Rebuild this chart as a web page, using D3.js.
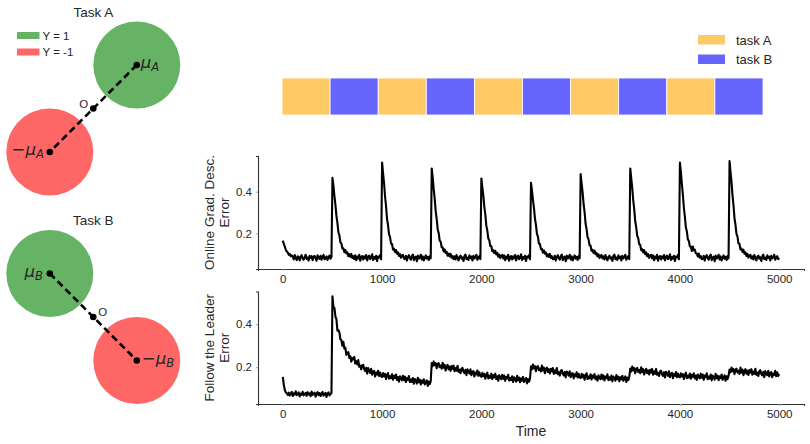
<!DOCTYPE html>
<html>
<head>
<meta charset="utf-8">
<script src="https://cdn.jsdelivr.net/npm/d3@7"></script>
<style>
  html, body { margin: 0; padding: 0; background: #fff; }
  svg { display: block; font-family: "Liberation Sans", Arial, sans-serif; }
</style>
</head>
<body>
<svg id="chart" width="810" height="444"></svg>
<script>
// ---- data ----
const taskNames = ["task A", "task B"];
const taskColors = ["#ffc966", "#6666ff"];
const taskOrder = ["task A", "task B", "task A", "task B", "task A", "task B", "task A", "task B", "task A", "task B"];
const classLabels = ["Y = 1", "Y = -1"];
const classColors = ["#66b366", "#ff6666"];
const xTicks = [0, 1000, 2000, 3000, 4000, 5000];
const yTicks = [0.2, 0.4];
const timeStep = 10; // one value every 10 steps, 0..5000

// online gradient descent error, one row of 50 per task block
const ogdError = [
  .165,.149,.136,.121,.113,.108,.097,.101,.09,.094,.088,.075,.096,.081,.071,.09,.085,.07,.089,.095,.079,.073,.086,.097,.077,.083,.069,.092,.082,.09,.071,.088,.091,.08,.068,.094,.085,.077,.092,.073,.087,.096,.075,.081,.089,.072,.084,.093,.078,.086,
  .467,.428,.379,.337,.284,.250,.205,.190,.156,.152,.127,.128,.109,.120,.103,.109,.090,.100,.087,.101,.082,.090,.076,.094,.071,.088,.079,.097,.068,.085,.091,.074,.089,.08,.096,.07,.087,.093,.076,.082,.099,.072,.086,.078,.092,.067,.088,.084,.095,.075,
  .541,.489,.441,.377,.331,.269,.238,.195,.183,.151,.149,.122,.126,.110,.120,.102,.109,.091,.100,.083,.092,.097,.079,.077,.092,.069,.086,.095,.081,.073,.09,.098,.071,.084,.088,.066,.093,.079,.085,.097,.074,.089,.07,.083,.094,.078,.087,.072,.091,.08,
  .512,.468,.413,.366,.307,.269,.220,.202,.165,.160,.133,.133,.113,.123,.106,.111,.092,.102,.089,.102,.083,.091,.076,.089,.074,.096,.082,.07,.087,.093,.078,.085,.067,.091,.098,.076,.083,.072,.094,.081,.088,.069,.092,.079,.086,.097,.073,.084,.09,.076,
  .464,.420,.381,.327,.290,.237,.213,.175,.167,.139,.139,.114,.120,.105,.116,.098,.106,.088,.098,.081,.091,.096,.079,.094,.071,.088,.079,.097,.068,.085,.091,.074,.089,.08,.096,.07,.087,.093,.076,.082,.099,.072,.086,.078,.092,.067,.088,.084,.095,.075,
  .443,.406,.360,.321,.271,.240,.197,.184,.151,.149,.124,.126,.107,.118,.102,.108,.089,.099,.087,.101,.082,.090,.076,.077,.092,.069,.086,.095,.081,.073,.09,.098,.071,.084,.088,.066,.093,.079,.085,.097,.074,.089,.07,.083,.094,.078,.087,.072,.091,.08,
  .485,.439,.398,.340,.301,.246,.220,.181,.171,.142,.141,.116,.121,.106,.117,.099,.106,.089,.099,.081,.091,.096,.079,.089,.074,.096,.082,.07,.087,.093,.078,.085,.067,.091,.098,.076,.083,.072,.094,.081,.088,.069,.092,.079,.086,.097,.073,.084,.09,.076,
  .512,.463,.418,.358,.315,.257,.229,.188,.177,.147,.145,.119,.124,.108,.119,.100,.108,.090,.100,.082,.092,.097,.079,.094,.071,.088,.079,.097,.068,.085,.091,.074,.089,.08,.096,.07,.087,.093,.076,.082,.099,.072,.086,.078,.092,.067,.088,.084,.095,.075,
  .541,.494,.436,.385,.323,.281,.229,.209,.171,.164,.137,.136,.115,.137,.118,.122,.104,.103,.089,.103,.083,.091,.076,.077,.092,.069,.086,.095,.081,.073,.09,.098,.071,.084,.088,.066,.093,.079,.085,.097,.074,.089,.07,.083,.094,.078,.087,.072,.091,.08,
  .548,.495,.446,.381,.334,.272,.240,.197,.184,.152,.149,.123,.127,.111,.121,.102,.109,.091,.101,.083,.092,.097,.079,.089,.074,.096,.082,.07,.087,.093,.078,.085,.067,.091,.098,.076,.083,.072,.094,.081,.088,.069,.092,.079,.086,.097,.073,.084,.09,.076,
  .082
];

// follow the leader error, one row of 50 per task block
const ftlError = [
  .155,.118,.094,.083,.079,.071,.082,.068,.077,.085,.066,.079,.073,.088,.07,.076,.083,.064,.078,.072,.086,.069,.075,.081,.067,.084,.073,.079,.065,.087,.071,.077,.082,.063,.076,.084,.07,.08,.066,.078,.085,.068,.074,.081,.062,.077,.083,.069,.075,.08,
  .53,.481,.476,.435,.423,.370,.373,.362,.330,.326,.300,.318,.286,.291,.257,.268,.270,.243,.251,.226,.243,.236,.248,.217,.228,.213,.233,.202,.208,.190,.209,.211,.191,.182,.197,.170,.196,.185,.174,.193,.165,.180,.183,.157,.175,.166,.184,.159,.175,.158,
  .155,.173,.157,.169,.145,.163,.173,.147,.158,.149,.167,.142,.160,.150,.166,.141,.154,.133,.158,.149,.139,.160,.140,.156,.131,.149,.141,.159,.131,.143,.132,.150,.123,.145,.138,.124,.151,.130,.142,.120,.138,.128,.144,.120,.130,.139,.113,.133,.121,.135,
  .219,.205,.227,.209,.219,.195,.215,.219,.200,.208,.193,.221,.198,.211,.185,.203,.211,.190,.203,.183,.205,.192,.208,.181,.196,.184,.207,.179,.188,.172,.193,.197,.179,.172,.188,.163,.190,.180,.170,.190,.163,.179,.182,.157,.175,.167,.185,.160,.177,.160,
  .155,.174,.158,.169,.146,.164,.175,.148,.160,.151,.170,.145,.163,.153,.170,.145,.158,.137,.163,.153,.144,.165,.146,.161,.137,.155,.148,.165,.138,.150,.140,.158,.131,.153,.147,.133,.160,.139,.152,.130,.148,.138,.155,.131,.141,.150,.125,.145,.133,.147,
  .204,.190,.212,.194,.205,.181,.201,.205,.186,.194,.180,.208,.185,.198,.172,.190,.198,.178,.191,.171,.193,.180,.196,.169,.185,.173,.196,.168,.177,.161,.183,.187,.169,.162,.178,.153,.180,.171,.161,.181,.154,.170,.173,.148,.167,.159,.177,.152,.169,.152,
  .150,.169,.153,.165,.142,.161,.172,.145,.157,.149,.167,.143,.161,.152,.168,.144,.157,.137,.162,.153,.144,.166,.146,.162,.138,.157,.149,.167,.140,.153,.142,.161,.134,.157,.150,.137,.164,.144,.156,.135,.153,.144,.160,.137,.147,.157,.131,.152,.140,.155,
  .194,.180,.203,.185,.196,.172,.192,.197,.178,.187,.172,.200,.178,.191,.166,.184,.192,.172,.185,.166,.188,.175,.192,.165,.181,.169,.192,.165,.174,.159,.180,.184,.167,.160,.177,.152,.179,.170,.160,.181,.154,.170,.174,.149,.168,.160,.178,.154,.171,.155,
  .153,.172,.157,.168,.145,.164,.175,.149,.160,.152,.171,.147,.165,.155,.172,.148,.161,.141,.166,.157,.148,.170,.151,.166,.142,.161,.154,.172,.144,.157,.147,.166,.139,.161,.155,.142,.169,.149,.161,.140,.158,.149,.166,.142,.152,.162,.137,.158,.145,.160,
  .189,.176,.198,.181,.191,.168,.189,.193,.175,.183,.169,.198,.175,.189,.163,.182,.191,.170,.184,.164,.187,.175,.191,.165,.180,.169,.193,.165,.175,.159,.181,.186,.168,.162,.178,.154,.182,.172,.163,.183,.157,.174,.177,.153,.171,.164,.183,.158,.176,.159,
  .168
];

// toy task geometry: class means in 2-D
const taskA = { title: "Task A", mu: [1, 1], sub: "A" };
const taskB = { title: "Task B", mu: [-1, 1], sub: "B" };

const svg = d3.select("#chart");

// ---- left: the two toy tasks ----
function drawTask(task, cx, cy, withLegend) {
  const g = svg.append("g");
  const unit = 43.5;
  const x = d3.scaleLinear().domain([-1, 1]).range([cx - unit, cx + unit]);
  const y = d3.scaleLinear().domain([-1, 1]).range([cy + unit, cy - unit]);
  const pos = task.mu, neg = task.mu.map((v) => -v);

  g.append("circle").attr("cx", x(pos[0])).attr("cy", y(pos[1])).attr("r", x(1) - x(0)).attr("fill", classColors[0]);
  g.append("circle").attr("cx", x(neg[0])).attr("cy", y(neg[1])).attr("r", x(1) - x(0)).attr("fill", classColors[1]);
  g.append("line")
    .attr("x1", x(pos[0])).attr("y1", y(pos[1])).attr("x2", x(neg[0])).attr("y2", y(neg[1]))
    .attr("stroke", "#000").attr("stroke-width", 2.6).attr("stroke-dasharray", "7,4");
  [pos, [0, 0], neg].forEach((p) => {
    g.append("circle").attr("cx", x(p[0])).attr("cy", y(p[1])).attr("r", 3.3).attr("fill", "#000");
  });

  g.append("text").attr("x", cx).attr("y", cy - 92).attr("text-anchor", "middle")
    .attr("font-size", 13.5).attr("fill", "#262626").text(task.title);

  // "O" label at the origin
  const oRight = pos[0] < 0;
  g.append("text").attr("x", x(0) + (oRight ? 5 : -5)).attr("y", y(0) - 1)
    .attr("text-anchor", oRight ? "start" : "end").attr("font-size", 11.5).attr("fill", "#262626").text("O");

  function muLabel(p, neg, anchor, dx) {
    const t = g.append("text").attr("x", x(p[0]) + dx).attr("y", y(p[1]) + 3)
      .attr("text-anchor", anchor).attr("font-size", 16.5).attr("fill", "#262626")
      .attr("font-family", "DejaVu Sans, sans-serif");
    if (neg) t.append("tspan").text("\u2212");
    t.append("tspan").attr("font-style", "italic").text("\u03bc");
    t.append("tspan").attr("font-style", "italic").attr("font-size", 11.5).attr("dy", 3).text(task.sub);
  }
  if (pos[0] > 0) {
    muLabel(pos, false, "start", 4);
    muLabel(neg, true, "end", -6);
  } else {
    muLabel(pos, false, "end", -7);
    muLabel(neg, true, "start", 5);
  }

  if (withLegend) {
    const lg = g.append("g").attr("transform", "translate(17,32)");
    classLabels.forEach((lab, i) => {
      lg.append("rect").attr("x", 0).attr("y", i * 16.5).attr("width", 22.5).attr("height", 7).attr("fill", classColors[i]);
      lg.append("text").attr("x", 25.5).attr("y", i * 16.5 + 7.5).attr("font-size", 11.5).attr("fill", "#262626").text(lab);
    });
  }
}
drawTask(taskA, 93.3, 108.5, true);
drawTask(taskB, 93.3, 317, false);

// ---- top right: task schedule bar + legend ----
const bar = d3.scaleBand().domain(d3.range(taskOrder.length)).range([282, 763]).padding(0);
const color = d3.scaleOrdinal().domain(taskNames).range(taskColors);
svg.append("g").selectAll("rect").data(taskOrder).join("rect")
  .attr("x", (d, i) => bar(i)).attr("y", 78).attr("width", bar.bandwidth()).attr("height", 37)
  .attr("fill", (d) => color(d)).attr("stroke", "#fff").attr("stroke-width", 0.8);

const legend = svg.append("g").attr("transform", "translate(698,35)");
taskNames.forEach((name, i) => {
  legend.append("rect").attr("x", 0).attr("y", i * 19.5).attr("width", 27).attr("height", 9.5).attr("fill", color(name));
  legend.append("text").attr("x", 38).attr("y", i * 19.5 + 9.5).attr("font-size", 13).attr("fill", "#262626").text(name);
});

// ---- error curves ----
const x = d3.scaleLinear().domain([-250, 5250]).range([258, 804]);

function drawPanel(values, top, bottom, domain, labelLines, showXLabel) {
  const y = d3.scaleLinear().domain(domain).range([bottom, top]);
  const g = svg.append("g");
  const xAxis = d3.axisBottom(x).tickValues(xTicks).tickFormat(d3.format("d")).tickSize(2).tickPadding(4);
  const yAxis = d3.axisLeft(y).tickValues(yTicks).tickFormat(d3.format(".1f")).tickSize(2).tickPadding(4);

  const gx = g.append("g").attr("transform", `translate(0,${bottom})`).call(xAxis);
  const gy = g.append("g").attr("transform", "translate(258,0)").call(yAxis);
  [gx, gy].forEach((a) => {
    a.select(".domain").attr("stroke", "#333").attr("stroke-width", 1.1);
    a.selectAll(".tick line").attr("stroke", "#aaa");
    a.selectAll(".tick text").attr("font-size", 11.5).attr("fill", "#262626")
      .attr("font-family", "Liberation Sans, Arial, sans-serif");
  });

  const line = d3.line().x((d, i) => x(i * timeStep)).y((d) => y(d));
  g.append("path").datum(values).attr("d", line)
    .attr("fill", "none").attr("stroke", "#000").attr("stroke-width", 2.1).attr("stroke-linejoin", "round");

  const mid = (top + bottom) / 2;
  const lab = g.append("text").attr("transform", `translate(213.5,${mid}) rotate(-90)`)
    .attr("text-anchor", "middle").attr("font-size", 13.5).attr("fill", "#262626");
  labelLines.forEach((t, i) => lab.append("tspan").attr("x", 0).attr("dy", i ? 15.5 : 0).text(t));

  if (showXLabel) {
    g.append("text").attr("x", x(2500)).attr("y", bottom + 32).attr("text-anchor", "middle")
      .attr("font-size", 14).attr("fill", "#262626").text("Time");
  }
}
drawPanel(ogdError, 156, 269, [0.0285, 0.572], ["Online Grad. Desc.", "Error"], false);
drawPanel(ftlError, 291.5, 404, [0.029, 0.552], ["Follow the Leader", "Error"], true);
</script>
</body>
</html>
